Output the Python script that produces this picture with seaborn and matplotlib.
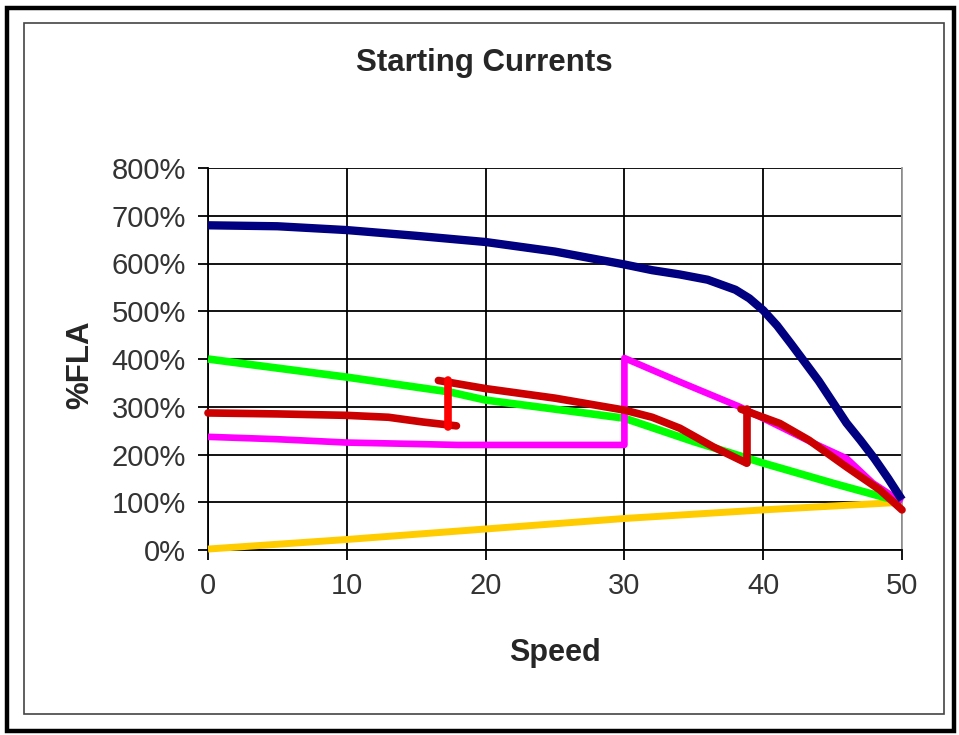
import numpy as np
import pandas as pd
import matplotlib
matplotlib.use('Agg')
import matplotlib.pyplot as plt
from matplotlib.patches import Rectangle
import seaborn as sns

# Values (speed, % of full load amps)
navy_speed = [0, 5, 10, 15, 20, 25, 30, 32, 34, 36, 38, 39, 40, 41, 42, 43, 44, 45, 46, 47, 48, 49, 50]
navy_fla = [680, 678, 670, 658, 645, 625, 598, 586, 577, 566, 545, 527, 502, 470, 432, 393, 354, 310, 266, 230, 192, 150, 105]

green_speed = [0, 10, 17.4, 20, 25, 30, 35, 40, 45, 50]
green_fla = [400, 362, 331, 314, 295, 276, 227, 182, 140, 100]

pink_speed = [0, 5, 10, 15, 18, 30, 30, 34, 38.3, 43.6, 46, 47.9, 50]
pink_fla = [237, 232, 225, 222, 220, 220, 402, 352, 300, 224, 192, 140, 100]

yellow_speed = [0, 10, 20, 30, 40, 50]
yellow_fla = [2, 22, 44, 66, 84, 100]

red1_speed = [0, 5, 10, 13, 15.5, 17.9]
red1_fla = [287, 285, 282, 278, 268, 260]
red2_speed = [16.6, 20, 25, 30, 32, 34, 36.4, 38.8]
red2_fla = [355, 338, 318, 293, 278, 255, 216, 182]
red3_speed = [38.4, 41.2, 43.3, 46, 48.4, 50]
red3_fla = [295, 265, 230, 174, 126, 84]
jump1_speed = [17.3, 17.3]
jump1_fla = [258, 355]
jump2_speed = [38.8, 38.8]
jump2_fla = [182, 295]

x_ticks = [0, 10, 20, 30, 40, 50]
y_ticks = [0, 100, 200, 300, 400, 500, 600, 700, 800]

sns.set_style('white')
plt.rcParams['font.family'] = ['Liberation Sans', 'DejaVu Sans']

fig = plt.figure(figsize=(9.59, 7.35), dpi=100)
ax = fig.add_axes([208 / 959, 1 - 550 / 735, (902 - 208) / 959, (550 - 168) / 735])

# frames around the chart
fig.patches.append(Rectangle((7 / 959, 1 - 731 / 735), 947 / 959, 723 / 735,
                             transform=fig.transFigure, fill=False, edgecolor='black', linewidth=3.2))
fig.patches.append(Rectangle((24 / 959, 1 - 714 / 735), 920 / 959, 691 / 735,
                             transform=fig.transFigure, fill=False, edgecolor='#444444', linewidth=1.2))

series = [
    (yellow_speed, yellow_fla, '#ffcc00', 5.0, 'butt'),
    (green_speed, green_fla, '#00ff00', 5.5, 'butt'),
    (pink_speed, pink_fla, '#ff00ff', 4.8, 'butt'),
    (navy_speed, navy_fla, '#000080', 6.0, 'butt'),
    (red1_speed, red1_fla, '#cc0000', 5.5, 'round'),
    (red2_speed, red2_fla, '#cc0000', 5.5, 'round'),
    (red3_speed, red3_fla, '#cc0000', 5.5, 'round'),
    (jump1_speed, jump1_fla, '#ff0000', 5.5, 'round'),
    (jump2_speed, jump2_fla, '#cc0000', 5.5, 'round'),
]
for xs, ys, col, lw, cap in series:
    df = pd.DataFrame({'speed': xs, 'fla': ys})
    sns.lineplot(data=df, x='speed', y='fla', sort=False, estimator=None, errorbar=None,
                 color=col, linewidth=lw, solid_capstyle=cap, solid_joinstyle='round',
                 ax=ax, clip_on=False, zorder=3)

ax.set_xlim(0, 50)
ax.set_ylim(0, 800)
ax.set_xticks(x_ticks)
ax.set_yticks(y_ticks)
ax.set_yticklabels([f'{v}%' for v in y_ticks])
ax.grid(True, color='black', linewidth=1.3)
ax.set_axisbelow(True)
ax.tick_params(axis='both', direction='out', length=7, width=1.3, color='black',
               labelsize=21, labelcolor='#333333', pad=9, left=True, bottom=True)
for s in ['left', 'bottom']:
    ax.spines[s].set_color('black')
    ax.spines[s].set_linewidth(1.3)
ax.spines['top'].set_visible(False)
ax.spines['right'].set_color('#999999')
ax.spines['right'].set_linewidth(1.3)
ax.set_xlabel('')
ax.set_ylabel('')

fig.text(484 / 959, 1 - 63 / 735, 'Starting Currents', ha='center', va='center',
         fontsize=22.5, fontweight='bold')
fig.text(555 / 959, 1 - 653 / 735, 'Speed', ha='center', va='center',
         fontsize=22, fontweight='bold')
fig.text(80 / 959, 1 - 365 / 735, '%FLA', ha='center', va='center', rotation=90,
         fontsize=22.5, fontweight='bold')

fig.savefig('out.png', dpi=100, facecolor='white')
